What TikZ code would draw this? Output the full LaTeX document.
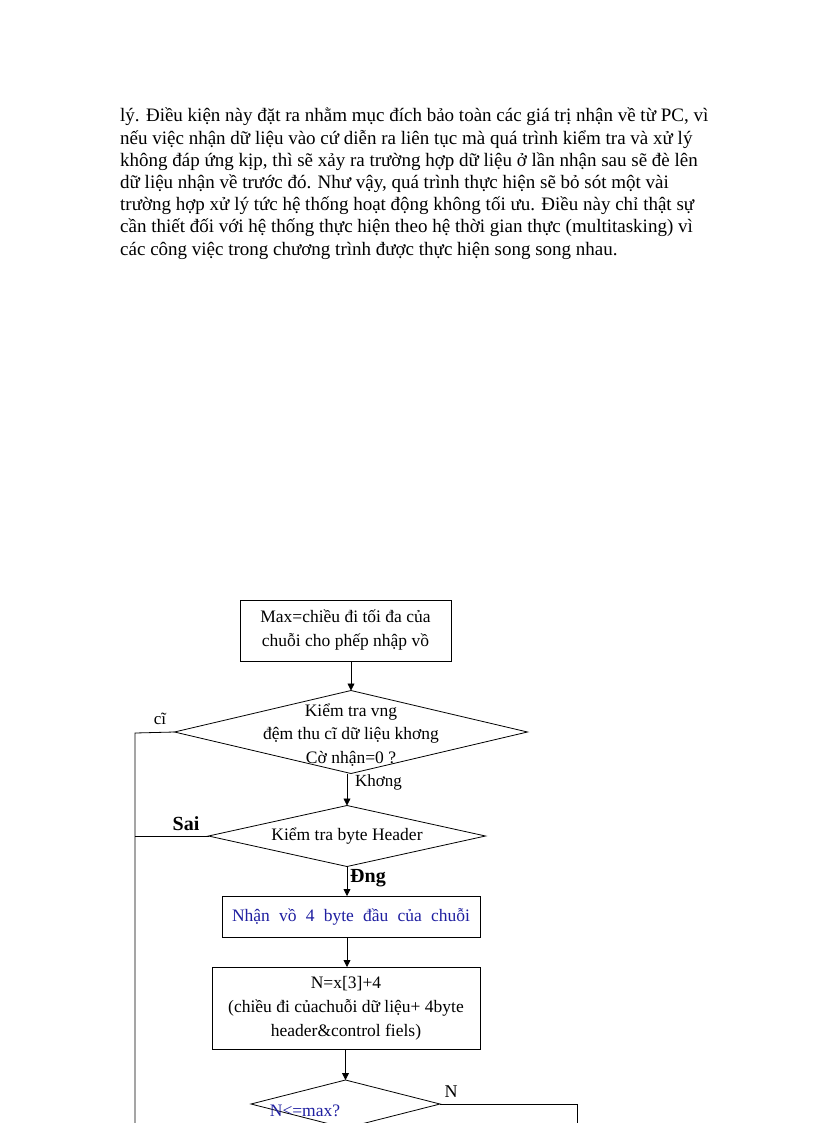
\documentclass[tikz,border=0pt]{standalone}
\usepackage{fontspec}
\setmainfont{Liberation Serif}
\usepackage{tikz}
\usetikzlibrary{arrows.meta, positioning, shapes.geometric, calc}
\definecolor{FlowBlue}{HTML}{1E1EA0}

\begin{document}
\begin{tikzpicture}[x=1pt, y=-1pt,
        box/.style={draw, line width=0.8pt, inner sep=0pt, outer sep=0pt, align=center, font=\fontsize{17.5}{24}\selectfont},
        decide/.style={draw, diamond, line width=0.8pt, inner sep=0pt, outer sep=0pt},
        txt/.style={align=center, font=\fontsize{17.5}{23.5}\selectfont},
        lbl/.style={font=\fontsize{17}{20}\selectfont, inner sep=0pt},
        line/.style={line width=0.8pt},
        arr/.style={line width=0.8pt, -{Triangle[length=7pt, width=7pt]}}]
    \useasboundingbox (0,0) rectangle (816,1123);
    \clip (0,0) rectangle (816,1123);
    % doan van ben tren
    \foreach \i/\s in {0/{lý. Điều kiện này đặt ra nhằm mục đích bảo toàn các giá trị nhận về từ PC, vì},
            1/{nếu việc nhận dữ liệu vào cứ diễn ra liên tục mà quá trình kiểm tra và xử lý},
            2/{không đáp ứng kịp, thì sẽ xảy ra trường hợp dữ liệu ở lần nhận sau sẽ đè lên},
            3/{dữ liệu nhận về trước đó. Như vậy, quá trình thực hiện sẽ bỏ sót một vài},
            4/{trường hợp xử lý tức hệ thống hoạt động không tối ưu. Điều này chỉ thật sự},
            5/{cần thiết đối với hệ thống thực hiện theo hệ thời gian thực (multitasking) vì},
            6/{các công việc trong chương trình được thực hiện song song nhau.}}
        \node[anchor=base west, inner sep=0pt, font=\fontsize{19}{22}\selectfont] (para\i) at (120,{122+22.2*\i}) {\s};
    % luu do
    \node[box, minimum width=211pt, minimum height=61pt] (maxbox) at (345.5,630.5) {Max=chiều đi tối đa của\\chuỗi cho phếp nhập vồ};
    \node[decide, minimum width=353pt, minimum height=83pt] (checkbuf) at (351,732) {};
    \node[txt] (checkbuftxt) at (351,735) {Kiểm tra vng\\đệm thu cĩ dữ liệu khơng\\Cờ nhận=0 ?};
    \node[decide, minimum width=277pt, minimum height=61pt] (checkhdr) at (347,836) {};
    \node[txt] (checkhdrtxt) at (347,836) {Kiểm tra byte Header};
    \node[box, minimum width=258pt, minimum height=41pt, text=FlowBlue] (getfour) at (351,916.5) {\raisebox{-4pt}{\makebox[238pt][s]{Nhận vồ 4 byte đầu của chuỗi}}};
    \node[box, minimum width=268pt, minimum height=82pt] (lenbox) at (346,1008) {N=x[3]+4\\(chiều đi củachuỗi dữ liệu+ 4byte\\header\&control fiels)};
    \node[decide, minimum width=189pt, minimum height=48pt] (checkmax) at (345.5,1104) {};
    \node[txt, text=FlowBlue] (checkmaxtxt) at (305,1111) {N<=max?};

    \coordinate (leftbus) at (135,733);
    \coordinate (leftend) at (135,1130);
    \coordinate (rightbus) at (577,1104);
    \coordinate (rightend) at (577,1130);

    \draw[arr] (checkbuf.north |- maxbox.south) -- (checkbuf.north);
    \draw[arr] (checkhdr.north |- checkbuf.south) -- (checkhdr.north);
    \draw[arr] (checkhdr.south) -- (checkhdr.south |- getfour.north);
    \draw[arr] (checkhdr.south |- getfour.south) -- (checkhdr.south |- lenbox.north);
    \draw[arr] (checkmax.north |- lenbox.south) -- (checkmax.north);
    \draw[line] (checkbuf.west) -- (leftbus) -- (leftend);
    \draw[line] (checkhdr.west) -- (checkhdr.west -| leftbus);
    \draw[line] (checkmax.east) -- (rightbus) -- (rightend);

    \node[lbl] (colbl) at (160,719) {cĩ};
    \node[lbl, anchor=west] (khonglbl) at (355,782) {Khơng};
    \node[lbl, font=\fontsize{20}{22}\selectfont\bfseries] (sailbl) at (186,824) {Sai};
    \node[lbl, anchor=west, font=\fontsize{20}{22}\selectfont\bfseries] (dunglbl) at (350,878) {Đng};
    \node[lbl, font=\fontsize{18}{20}\selectfont] (nlbl) at (451,1092) {N};
\end{tikzpicture}
\end{document}
